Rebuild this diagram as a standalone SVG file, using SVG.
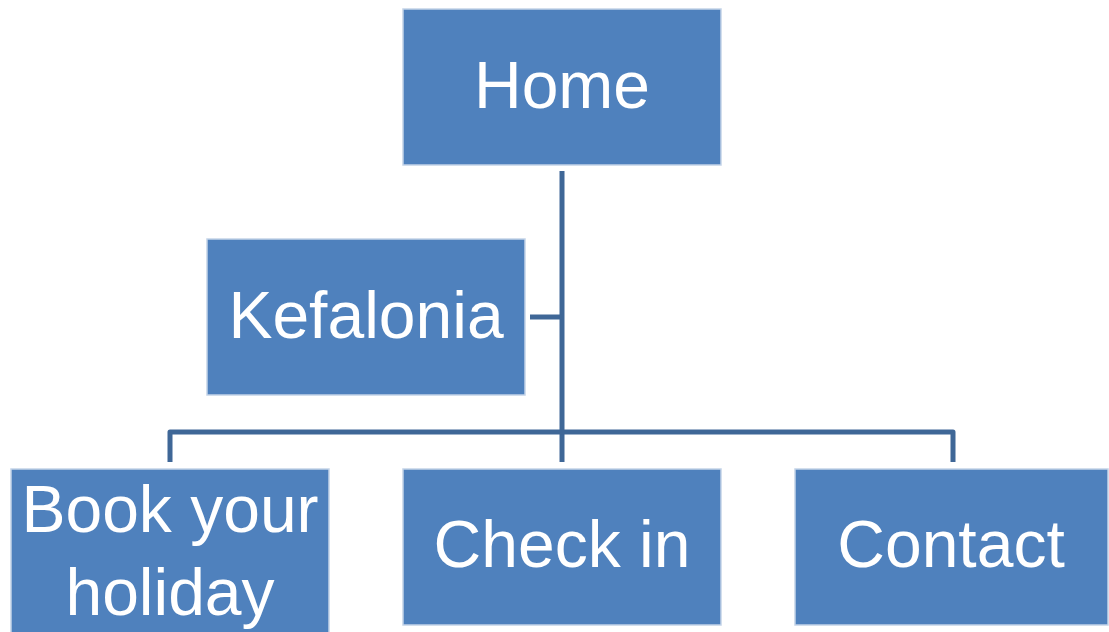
<svg xmlns="http://www.w3.org/2000/svg" width="1109" height="632" viewBox="0 0 1109 632">
<style>
.box{fill:#4F81BD;stroke:#C3D3E8;stroke-width:1.5}
.lbl{font-family:"Liberation Sans",Arial,sans-serif;font-size:66px;fill:#FFFFFF;text-anchor:middle}
.con{fill:none;stroke:#3F6797;stroke-width:5;stroke-linejoin:round}
</style>
<rect width="1109" height="632" fill="#FFFFFF"/>
<g id="connectors">
<path class="con" d="M562 171 V462"/>
<path class="con" d="M530 317 H562"/>
<path class="con" d="M170 462 V432 H953 V462"/>
</g>
<g id="home"><rect class="box" x="403" y="9" width="318" height="156"/><text class="lbl" x="562" y="108">Home</text></g>
<g id="kefalonia"><rect class="box" x="207" y="239" width="318" height="156"/><text class="lbl" x="366" y="338">Kefalonia</text></g>
<g id="book"><rect class="box" x="11" y="469" width="318" height="166"/><text class="lbl" x="170" y="532">Book your</text><text class="lbl" x="170" y="615">holiday</text></g>
<g id="checkin"><rect class="box" x="403" y="469" width="318" height="156"/><text class="lbl" x="562" y="567">Check in</text></g>
<g id="contact"><rect class="box" x="795" y="469" width="313" height="156"/><text class="lbl" x="951" y="567">Contact</text></g>
</svg>
